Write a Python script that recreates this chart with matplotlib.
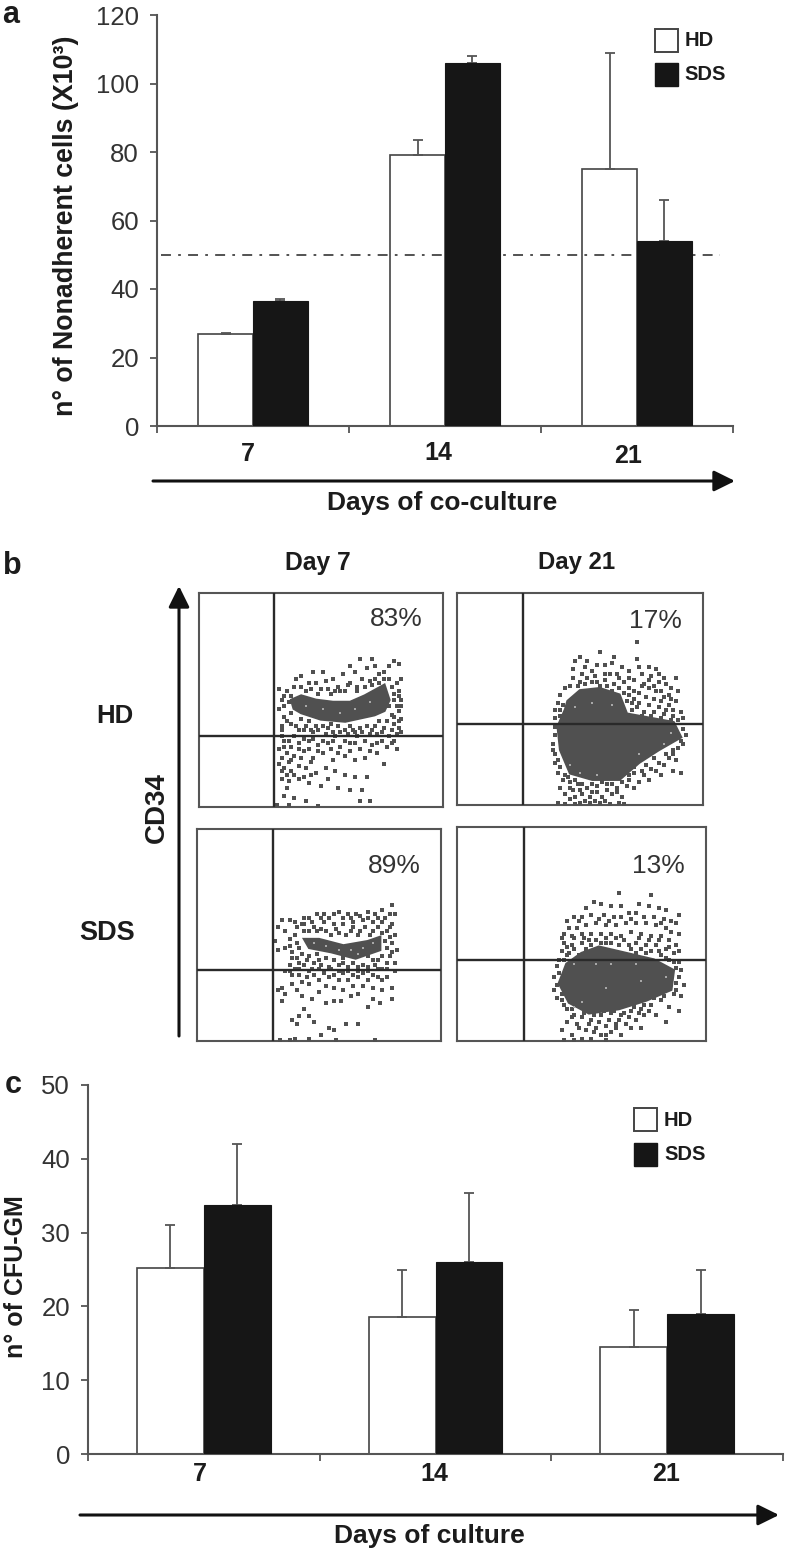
import matplotlib
matplotlib.use('Agg')
import matplotlib.pyplot as plt

plt.rcParams['font.family'] = ['Liberation Sans', 'DejaVu Sans']

W, H = 785, 1551
INK = '#333333'
DOT = '#505050'

# panel a
days = ['7', '14', '21']
nonadh_hd = [27, 79, 75]
nonadh_sds = [36.5, 106, 54]
nonadh_hd_top = [27.2, 83.5, 109]
nonadh_sds_top = [37, 108, 66]
nonadh_ticks = [0, 20, 40, 60, 80, 100, 120]
threshold = 50

# panel c
cfu_hd = [25.2, 18.5, 14.5]
cfu_sds = [33.8, 26, 19]
cfu_hd_top = [31, 25, 19.5]
cfu_sds_top = [42, 35.3, 25]
cfu_ticks = [0, 10, 20, 30, 40, 50]

# panel b, all in percent of the plot box: gates, dense core outline, single dots
hd7_gate = (31, 33)
hd7_core = [(38, 50), (42, 52), (48, 50), (55, 49), (62, 49), (68, 52), (76, 57), (78, 50), (76, 45), (72, 43), (60, 40), (50, 41), (42, 44), (39, 46)]
hd7_dots = [(33, 55), (34, 50), (33, 46), (35, 42), (34, 38), (36, 54), (37, 49), (38, 44), (36, 40), (39, 56), (40, 60),
            (42, 61), (45, 58), (46, 55), (48, 58), (50, 55), (52, 59), (54, 53), (55, 60), (57, 56), (59, 62), (60, 54),
            (62, 58), (64, 63), (65, 56), (67, 60), (69, 65), (70, 59), (72, 66), (74, 62), (76, 63), (78, 66), (80, 68),
            (82, 67), (83, 60), (81, 58), (79, 56), (82, 54), (83, 50), (80, 50), (78, 47), (82, 45), (83, 41), (80, 42),
            (77, 40), (74, 40), (72, 38), (69, 38), (66, 37), (63, 36), (60, 36), (57, 38), (54, 39), (51, 38), (48, 38),
            (45, 40), (42, 41), (40, 38), (43, 36), (47, 35), (52, 34), (56, 33), (61, 34), (65, 33), (70, 34), (75, 35),
            (79, 36), (82, 37), (34, 33), (37, 31), (41, 30), (45, 31), (49, 29), (53, 30), (58, 28), (62, 30), (66, 27),
            (71, 29), (75, 31), (79, 30), (81, 27), (33, 27), (36, 25), (39, 24), (43, 26), (47, 23), (51, 25), (55, 22),
            (60, 24), (64, 22), (68, 23), (73, 25), (76, 20), (33, 20), (35, 18), (38, 17), (37, 21), (41, 19), (44, 18),
            (48, 16), (52, 18), (56, 17), (60, 15), (64, 14), (69, 14), (34, 13), (37, 12), (36, 9), (41, 13), (45, 11),
            (50, 10), (53, 13), (57, 9), (62, 8), (67, 8), (35, 5), (39, 4), (44, 3), (66, 3), (70, 3), (32, 1), (37, 1),
            (49, 0.5), (72, 60), (62, 66), (51, 63), (47, 63), (66, 69), (71, 69),
            (35, 47), (38, 39), (41, 36), (44, 38), (46, 36), (49, 36), (53, 37), (55, 35), (58, 35), (62, 38), (64, 35),
            (67, 35), (71, 36), (73, 34), (76, 37), (78, 33), (81, 34), (83, 35), (80, 39), (82, 40), (81, 47), (79, 43),
            (83, 47), (82, 52), (80, 53), (78, 60), (76, 60), (74, 58), (71, 57), (68, 56), (65, 54), (61, 57), (58, 54),
            (56, 54), (53, 55), (49, 53), (44, 54), (42, 56), (38, 52), (35, 52), (34, 36), (35, 31), (39, 33), (43, 32),
            (47, 32), (51, 31), (55, 31), (60, 31), (64, 30), (68, 31), (73, 30), (77, 28), (80, 31), (35, 28), (38, 28),
            (41, 27), (45, 27), (49, 26), (54, 27), (57, 25), (62, 26), (70, 26), (34, 23), (38, 22), (42, 23), (46, 21),
            (34, 17), (39, 15), (36, 15), (43, 14), (46, 15)]
hd7_holes = [(44, 47), (51, 46), (58, 44), (64, 46), (70, 49)]

hd21_gate = (27, 38)
hd21_core = [(45, 49), (50, 54), (58, 55), (66, 52), (69, 43), (88, 39), (91, 32), (82, 26), (74, 20), (66, 12), (55, 12), (46, 15), (42, 26), (41, 37), (44, 45)]
hd21_dots = [(73, 77), (50, 70), (58, 72), (48, 68), (60, 66), (63, 67), (67, 65), (73, 69), (78, 65), (81, 64), (84, 60),
             (52, 65), (55, 63), (62, 62), (65, 62), (70, 63), (75, 62), (79, 61), (82, 58), (85, 57), (89, 60), (87, 55),
             (47, 60), (50, 58), (53, 60), (57, 58), (60, 59), (64, 57), (68, 58), (72, 59), (76, 57), (80, 56), (83, 54),
             (86, 52), (90, 54), (44, 55), (42, 52), (41, 48), (43, 47), (40, 45), (42, 42), (70, 55), (74, 53), (72, 50),
             (77, 51), (80, 50), (83, 49), (86, 47), (89, 49), (91, 44), (73, 46), (76, 44), (80, 44), (84, 43), (88, 42),
             (71, 48), (92, 36), (91, 30), (88, 26), (85, 24), (89, 21), (84, 19), (80, 22), (77, 19), (81, 16), (75, 16),
             (72, 18), (70, 14), (74, 11), (78, 12), (83, 14), (88, 16), (91, 15), (69, 9), (65, 8), (61, 10), (57, 9),
             (53, 8), (49, 10), (46, 11), (43, 12), (41, 15), (40, 20), (40, 24), (44, 14), (47, 7), (51, 5), (55, 6),
             (59, 4), (63, 5), (67, 4), (44, 5), (42, 8), (46, 3), (50, 1), (54, 1), (58, 1), (62, 0.5), (68, 0.5), (44, 0.5),
             (48, 0.5), (41, 1),
             (46, 56), (49, 56), (52, 57), (55, 58), (58, 56), (61, 56), (63, 54), (66, 55), (68, 53), (70, 52), (72, 54),
             (75, 56), (78, 55), (81, 54), (84, 51), (87, 50), (69, 49), (74, 48), (78, 47), (82, 46), (85, 45), (88, 45),
             (71, 45), (75, 42), (79, 42), (83, 41), (87, 40), (90, 40), (92, 41), (42, 45), (40, 41), (40, 37), (40, 33),
             (39, 29), (39, 26), (41, 21), (42, 18), (45, 13), (48, 12), (51, 10), (55, 10), (59, 11), (63, 10), (67, 11),
             (70, 12), (72, 15), (76, 14), (79, 17), (82, 20), (86, 22), (88, 24), (90, 27), (92, 29), (93, 33), (66, 60),
             (60, 62), (56, 61), (51, 62), (47, 64), (70, 60), (74, 65), (78, 59), (82, 62), (57, 66), (53, 68), (64, 70),
             (46, 8), (50, 7), (54, 4), (57, 6), (61, 7), (65, 6), (72, 8), (60, 2), (52, 2), (48, 4), (56, 2), (66, 1)]
hd21_holes = [(48, 46), (55, 48), (63, 47), (87, 34), (84, 29), (74, 24), (50, 15), (57, 14), (46, 19)]

sds7_gate = (31, 33.5)
sds7_core = [(44, 48), (50, 48), (60, 45), (70, 47), (75, 49), (75, 43), (65, 39), (55, 42), (46, 44)]
sds7_dots = [(32, 47), (33, 43), (33, 54), (35, 57), (38, 57), (40, 56), (36, 52), (38, 48), (36, 44), (39, 42), (41, 54),
             (43, 55), (46, 58), (49, 60), (52, 60), (56, 60), (58, 61), (62, 60), (65, 60), (70, 61), (73, 60), (76, 62),
             (80, 64), (81, 60), (80, 55), (81, 50), (80, 46), (82, 43), (79, 40), (78, 37), (81, 37), (76, 34), (73, 36),
             (70, 35), (66, 33), (62, 35), (58, 36), (55, 34), (51, 36), (48, 37), (45, 38), (42, 37), (40, 34), (38, 36),
             (44, 55), (48, 54), (52, 56), (56, 55), (60, 55), (64, 56), (68, 57), (72, 56), (76, 56), (78, 52), (47, 34),
             (53, 52), (58, 51), (63, 52), (67, 52), (72, 52), (77, 47), (43, 41), (49, 41), (60, 39), (70, 40), (74, 38),
             (36, 33), (35, 25), (33, 24), (36, 22), (35, 19), (39, 27), (42, 31), (45, 30), (41, 24), (43, 21), (46, 27),
             (50, 29), (54, 30), (58, 29), (62, 29), (66, 30), (70, 29), (74, 30), (78, 30), (80, 25), (76, 24), (72, 25),
             (68, 26), (64, 26), (60, 24), (56, 25), (53, 26), (50, 23), (47, 20), (53, 18), (56, 19), (59, 19), (63, 21),
             (66, 22), (72, 20), (75, 18), (80, 20), (44, 15), (42, 12), (46, 12), (39, 10), (41, 8), (48, 9), (56, 5),
             (61, 8), (66, 8), (34, 0.5), (38, 0.5), (40, 1), (46, 1), (57, 0.5), (73, 0.5), (54, 6), (51, 3), (70, 16),
             (40, 50), (38, 45), (41, 46), (39, 39), (42, 44), (44, 52), (46, 52), (49, 52), (51, 53), (55, 50), (57, 53),
             (61, 50), (64, 54), (66, 50), (69, 54), (71, 50), (74, 54), (76, 51), (79, 54), (79, 49), (78, 44), (80, 42),
             (76, 40), (72, 38), (68, 36), (64, 37), (60, 37), (56, 38), (53, 39), (50, 38), (46, 40), (44, 36), (41, 39),
             (38, 33), (42, 34), (46, 33), (50, 34), (54, 35), (58, 33), (62, 33), (66, 35), (70, 33), (74, 34), (78, 34),
             (81, 33), (44, 58), (47, 56), (51, 58), (54, 58), (60, 58), (63, 58), (67, 59), (70, 58), (74, 58), (77, 58),
             (79, 60), (39, 31), (43, 28), (48, 31), (52, 32), (56, 31), (60, 32), (64, 31), (68, 32), (72, 31), (76, 29)]
sds7_holes = [(48, 46), (53, 45), (58, 43), (63, 43), (68, 44), (72, 46), (66, 41)]

sds21_gate = (27, 38)
sds21_core = [(44, 36), (50, 41), (57, 44), (68, 41), (79, 38), (87, 33), (86, 24), (76, 19), (65, 15), (53, 13), (45, 18), (41, 27)]
sds21_dots = [(65, 69), (78, 68), (55, 65), (58, 64), (52, 62), (62, 63), (66, 63), (73, 64), (77, 63), (81, 62), (84, 61),
              (47, 58), (50, 58), (54, 59), (59, 59), (63, 58), (69, 60), (72, 60), (79, 58), (83, 57), (89, 59), (88, 55),
              (86, 51), (89, 50), (84, 53), (80, 54), (76, 55), (72, 55), (68, 55), (64, 54), (60, 54), (56, 55), (52, 54),
              (48, 53), (45, 53), (43, 50), (46, 49), (50, 50), (54, 50), (58, 50), (62, 50), (66, 49), (70, 51), (74, 50),
              (78, 49), (82, 49), (85, 47), (88, 45), (43, 46), (46, 45), (50, 46), (54, 45), (60, 46), (65, 45), (69, 45),
              (72, 46), (76, 45), (80, 45), (84, 43), (87, 41), (42, 42), (45, 41), (49, 40), (72, 41), (76, 41), (82, 40),
              (85, 38), (89, 37), (43, 38), (90, 33), (89, 30), (91, 26), (88, 24), (90, 21), (41, 32), (40, 26), (42, 22),
              (43, 17), (46, 15), (50, 11), (54, 10), (58, 12), (62, 13), (66, 12), (70, 14), (74, 15), (78, 17), (82, 19),
              (85, 16), (89, 14), (80, 12), (84, 9), (72, 10), (68, 8), (64, 8), (60, 7), (56, 6), (52, 5), (48, 8), (44, 9),
              (42, 5), (46, 3), (50, 1), (54, 1), (58, 3), (62, 4), (66, 3), (74, 6), (43, 0.5), (47, 0.5), (60, 0.5), (75, 12),
              (42, 48), (44, 44), (47, 43), (52, 43), (56, 47), (58, 46), (62, 46), (64, 48), (67, 47), (70, 43), (74, 43),
              (78, 42), (81, 42), (84, 39), (87, 37), (88, 34), (47, 48), (51, 48), (53, 47), (60, 48), (73, 48), (77, 47),
              (81, 47), (85, 44), (89, 42), (44, 40), (41, 38), (40, 35), (39, 30), (39, 24), (40, 20), (42, 19), (44, 15),
              (47, 12), (51, 13), (55, 12), (59, 14), (63, 14), (67, 13), (71, 16), (75, 17), (79, 20), (83, 21), (87, 22),
              (88, 27), (53, 8), (57, 9), (61, 10), (65, 10), (69, 11), (73, 13), (77, 14), (46, 11), (49, 6), (55, 4),
              (60, 3), (64, 6), (70, 6), (44, 56), (49, 56), (57, 57), (61, 56), (66, 58), (70, 57), (75, 58), (82, 55), (86, 56)]
sds21_holes = [(47, 36), (56, 36), (62, 36), (72, 36), (84, 30), (74, 28), (60, 25), (50, 18), (47, 16)]


def box(x0, y0, x1, y1, **kw):
    # pixel box of the reference -> axes in figure fractions
    return fig.add_axes([x0 / W, 1 - y1 / H, (x1 - x0) / W, (y1 - y0) / H], **kw)


def bars(ax, hd, sds, hd_top, sds_top, ymax, ticks, width):
    pos = [i + 0.5 for i in range(3)]
    left = [p - width for p in pos]
    ax.bar(left, hd, width, align='edge', color='white', edgecolor='#444444', lw=1.2, zorder=1)
    ax.bar(pos, sds, width, align='edge', color='#161616', edgecolor='#161616', lw=0.8, zorder=3)
    for xs, v, top in ((left, hd, hd_top), (pos, sds, sds_top)):
        xc = [x + width / 2 for x in xs]
        up = [t - b for t, b in zip(top, v)]
        ax.errorbar(xc, v, yerr=[[0] * 3, up], fmt='none', ecolor='#555555', elinewidth=1.3,
                    capsize=3.5, capthick=1.3, zorder=2)
    ax.set_xlim(0, 3)
    ax.set_ylim(0, ymax)
    ax.set_xticks([0, 1, 2, 3])
    ax.set_xticklabels([])
    ax.set_yticks(ticks)
    ax.tick_params(axis='y', labelsize=18.5, labelcolor=INK, color='#555555', width=1.3, length=5, pad=8)
    ax.tick_params(axis='x', color='#555555', width=1.3, length=5)
    for s in ('top', 'right'):
        ax.spines[s].set_visible(False)
    for s in ('left', 'bottom'):
        ax.spines[s].set_color('#555555')
        ax.spines[s].set_linewidth(1.5)
    ax.patch.set_alpha(0)


def flow(ax, gate, core, dots, holes, pct, pct_y):
    ax.fill([p[0] for p in core], [p[1] for p in core], color=DOT, lw=2, zorder=2)
    ax.scatter([p[0] for p in dots], [p[1] for p in dots], s=8, marker='s', color=DOT, lw=0, zorder=3)
    ax.scatter([p[0] for p in holes], [p[1] for p in holes], s=4, marker='s', color='#a8a8a8', lw=0, zorder=3)
    ax.axvline(gate[0], color='#2a2a2a', lw=1.7, zorder=4)
    ax.axhline(gate[1], color='#2a2a2a', lw=1.7, zorder=4)
    ax.set_xlim(0, 100)
    ax.set_ylim(0, 100)
    ax.set_xticks([])
    ax.set_yticks([])
    for s in ax.spines.values():
        s.set_color('#555555')
        s.set_linewidth(1.5)
    ax.text(91.5, pct_y, pct, ha='right', va='center', fontsize=19, color=INK, zorder=5)


fig = plt.figure(figsize=(W / 100, H / 100), dpi=100)

# a
ax_a = box(157, 15, 733, 426)
bars(ax_a, nonadh_hd, nonadh_sds, nonadh_hd_top, nonadh_sds_top, 120, nonadh_ticks, 0.284)
ax_a.plot([0.02, 2.93], [threshold, threshold], color='#444444', lw=1.3, ls=(0, (5.5, 4, 1.5, 4)), zorder=2)

# c
ax_c = box(88, 1085, 783, 1454)
bars(ax_c, cfu_hd, cfu_sds, cfu_hd_top, cfu_sds_top, 50, cfu_ticks, 0.289)

# b
flow(box(198.5, 593, 443, 807), hd7_gate, hd7_core, hd7_dots, hd7_holes, '83%', 88)
flow(box(457, 593, 703, 805), hd21_gate, hd21_core, hd21_dots, hd21_holes, '17%', 87)
flow(box(197, 829, 441, 1041), sds7_gate, sds7_core, sds7_dots, sds7_holes, '89%', 82.5)
flow(box(457, 827, 706, 1041), sds21_gate, sds21_core, sds21_dots, sds21_holes, '13%', 82)

# text and arrows, in reference pixels
ov = fig.add_axes([0, 0, 1, 1])
ov.set_xlim(0, W)
ov.set_ylim(H, 0)
ov.axis('off')
ov.patch.set_alpha(0)


def label(x, y, s, size=18, rot=0):
    ov.text(x, y, s, ha='center', va='center', fontsize=size, fontweight='bold', color='#1c1c1c', rotation=rot)


def arrow(x0, y0, x1, y1):
    ov.annotate('', xy=(x1, y1), xytext=(x0, y0),
                arrowprops=dict(arrowstyle='-|>,head_width=0.42,head_length=0.85', mutation_scale=15,
                                color='#111111', lw=2.2, shrinkA=0, shrinkB=0))


label(11, 15, 'a', 22)
label(12, 566, 'b', 22)
label(13, 1085, 'c', 22)

label(66, 226, u'n\u00b0 of Nonadherent cells (X10\u00b3)', 19.3, 90)
label(16, 1277, u'n\u00b0 of CFU-GM', 18, 90)

for d, x, y in zip(days, (248, 438, 628), (454, 453, 456)):
    label(x, y, d)
for d, x in zip(days, (200, 434, 666)):
    label(x, 1474, d)
label(442, 503, 'Days of co-culture', 19)
label(429, 1536, 'Days of culture', 19)
arrow(153, 481, 735, 481)
arrow(80, 1515, 779, 1515)

label(318, 563, 'Day 7', 17.7)
label(577, 563, 'Day 21', 17.2)
label(115, 716, 'HD', 18.5)
label(107, 933, 'SDS', 19.5)
label(157, 808, 'CD34', 20, 90)
arrow(179, 1036, 179, 586)

# legends
ov.bar([666.5], [23], 23, bottom=[29], color='white', edgecolor='#444444', lw=1.4)
ov.bar([666.5], [23], 23, bottom=[63], color='#161616', edgecolor='#161616', lw=1)
ov.text(685, 40, 'HD', fontsize=14.5, fontweight='bold', color='#1c1c1c', va='center')
ov.text(684, 74, 'SDS', fontsize=14.5, fontweight='bold', color='#1c1c1c', va='center')
ov.bar([645.5], [23], 23, bottom=[1108], color='white', edgecolor='#444444', lw=1.4)
ov.bar([645.5], [23], 23, bottom=[1143], color='#161616', edgecolor='#161616', lw=1)
ov.text(664, 1120, 'HD', fontsize=14.5, fontweight='bold', color='#1c1c1c', va='center')
ov.text(664, 1154, 'SDS', fontsize=14.5, fontweight='bold', color='#1c1c1c', va='center')

fig.savefig('out.png', dpi=100)
